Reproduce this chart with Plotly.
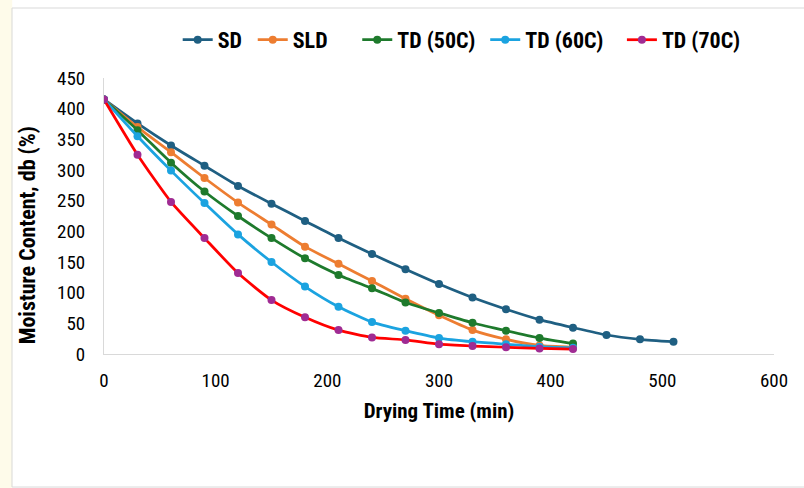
import plotly.graph_objects as go

time_sd = [0, 30, 60, 90, 120, 150, 180, 210, 240, 270, 300, 330, 360, 390, 420, 450, 480, 510]
time_other = [0, 30, 60, 90, 120, 150, 180, 210, 240, 270, 300, 330, 360, 390, 420]

sd = [415, 376, 340, 307, 274, 245, 217, 189, 163, 138, 114, 92, 73, 56, 43, 31, 24, 20]
sld = [415, 370, 329, 287, 247, 211, 175, 147, 119, 90, 63, 39, 24, 14, 11]
td50 = [415, 365, 312, 265, 225, 189, 156, 129, 107, 84, 67, 51, 38, 26, 17]
td60 = [415, 355, 299, 246, 195, 150, 110, 77, 52, 38, 26, 20, 16, 12, 10]
td70 = [415, 325, 248, 189, 132, 88, 60, 39, 27, 23, 16, 13, 11, 9, 8]

series_names = ["SD", "SLD", "TD (50C)", "TD (60C)", "TD (70C)"]
series_x = [time_sd, time_other, time_other, time_other, time_other]
series_y = [sd, sld, td50, td60, td70]
line_colors = ["#1F5F82", "#ED7D31", "#1E7A2C", "#1BA3E0", "#FF0000"]
marker_colors = ["#1F5F82", "#ED7D31", "#1E7A2C", "#1BA3E0", "#A02B93"]
legend_x = [0.110, 0.222, 0.378, 0.569, 0.773]

FONT = "Liberation Sans Narrow, Arial Narrow, Roboto Condensed, Liberation Sans, sans-serif"

fig = go.Figure()
legend_layout = {}
for i, name in enumerate(series_names):
    key = "legend" if i == 0 else f"legend{i + 1}"
    fig.add_trace(go.Scatter(
        x=series_x[i], y=series_y[i], name="<b>" + name + "</b>", mode="lines+markers",
        line=dict(color=line_colors[i], width=2.75, shape="spline", smoothing=0.6),
        marker=dict(color=marker_colors[i], size=8),
        legend=key,
    ))
    legend_layout[key] = dict(orientation="h", x=legend_x[i], xanchor="left", y=1.138, yanchor="middle",
                              font=dict(family=FONT, size=22, color="#000000"),
                              bgcolor="rgba(0,0,0,0)", borderwidth=0)

fig.update_layout(
    width=804, height=488,
    margin=dict(l=104, r=30, t=78, b=134),
    paper_bgcolor="white", plot_bgcolor="white",
    font=dict(family=FONT, size=18, color="#000000"),
    showlegend=True,
    **legend_layout,
    xaxis=dict(range=[0, 600], tickvals=[0, 100, 200, 300, 400, 500, 600],
               showgrid=False, zeroline=False, showline=True, linecolor="#D9D9D9", linewidth=1,
               ticks="", tickfont=dict(family=FONT, size=19, color="#000000"), ticklabelstandoff=9,
               title=dict(text="<b>Drying Time (min)</b>", font=dict(family=FONT, size=21, color="#000000"), standoff=12),
               tickprefix="<b>", ticksuffix="</b>", automargin=False),
    yaxis=dict(range=[0, 450], tickvals=[0, 50, 100, 150, 200, 250, 300, 350, 400, 450],
               showgrid=False, zeroline=False, showline=True, linecolor="#D9D9D9", linewidth=1,
               ticks="", tickfont=dict(family=FONT, size=19, color="#000000"), ticklabelstandoff=14,
               tickprefix="<b>", ticksuffix="</b>", automargin=False),
)

fig.add_annotation(text="<b>Moisture Content, db (%)</b>", xref="paper", yref="paper",
                   x=-0.115, y=0.43, xanchor="center", yanchor="middle", textangle=-90,
                   showarrow=False, font=dict(family=FONT, size=22, color="#000000"))

fig.add_shape(type="rect", xref="paper", yref="paper", x0=-0.16, x1=-0.137, y0=-0.49, y1=1.3,
              fillcolor="#FEFBEA", line=dict(width=0), layer="below")
fig.add_shape(type="rect", xref="paper", yref="paper", x0=-0.1373, x1=1.06, y0=-0.482, y1=1.2536,
              fillcolor="rgba(0,0,0,0)", line=dict(color="#D9D9D9", width=1), layer="below")

fig.write_html("out.html", config={"displayModeBar": False},
               post_script="document.body.style.margin='0';")
